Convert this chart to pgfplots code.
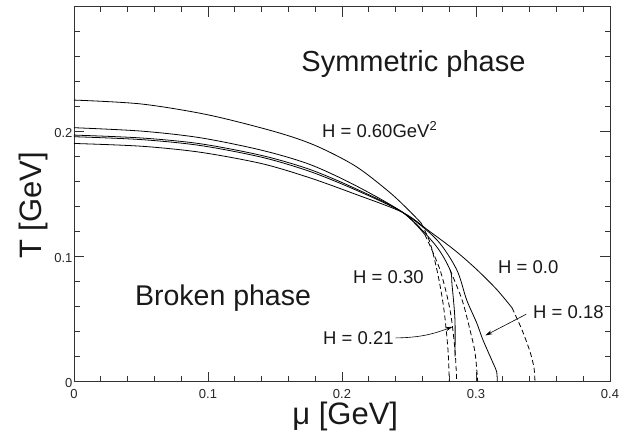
\documentclass[border=0pt]{standalone}
\usepackage{fontspec}
\setmainfont{Liberation Sans}
\usepackage{pgfplots}
\pgfplotsset{compat=1.18}
\usetikzlibrary{arrows.meta}
\begin{document}
\begin{tikzpicture}[x=1pt,y=1pt]
\useasboundingbox (0,0) rectangle (639,440);
\begin{axis}[
  at={(74pt,58.3pt)}, anchor=south west,
  scale only axis, width=536pt, height=375pt,
  xmin=0, xmax=0.4, ymin=0, ymax=0.3,
  xtick={0,0.1,0.2,0.3,0.4}, xticklabels={0,0.1,0.2,0.3,0.4},
  ytick={0,0.1,0.2,0.3}, yticklabels={0,0.1,0.2,{}},
  minor x tick num=4, minor y tick num=4,
  tick align=inside,
  major tick length=10pt, minor tick length=5.5pt,
  axis line style={line width=0.9pt, black!80},
  every tick/.style={black!80, line width=0.8pt},
  tick label style={font=\fontsize{13}{13}\selectfont, text=black!85},
  xticklabel style={yshift=-4pt},
  yticklabel style={xshift=2pt, yshift=-1pt},
  /pgf/number format/assume math mode=true,
  xlabel={μ [GeV]}, ylabel={T [GeV]},
  label style={font=\fontsize{31}{31}\selectfont, text=black!90},
  xlabel style={at={(axis description cs:0.506,-0.092)}, anchor=center},
  ylabel style={at={(axis description cs:-0.076,0.47)}, anchor=center},
  clip=false,
]
% H = 0.60
\addplot[black, line width=0.8pt, smooth] coordinates {
 (0,0.2253)(0.05,0.2222)(0.10,0.2135)(0.15,0.2000)(0.18,0.1890)(0.21,0.1725)(0.235,0.1520)(0.25,0.1370)(0.259,0.1270)};
\addplot[black, line width=0.8pt, smooth, dash pattern=on 5pt off 3pt] coordinates {
 (0.259,0.1270)(0.2657,0.1112)(0.2716,0.0856)(0.2761,0.0575)(0.2791,0.0254)(0.2801,0)};
% H = 0.30
\addplot[black, line width=0.8pt, smooth] coordinates {
 (0,0.2032)(0.05,0.2005)(0.094,0.1952)(0.14,0.1852)(0.176,0.1738)(0.21,0.1570)(0.2455,0.1353)(0.2619,0.1176)};
\addplot[black, line width=0.8pt, smooth, dash pattern=on 5pt off 3pt] coordinates {
 (0.2619,0.1176)(0.2731,0.0896)(0.2806,0.0575)(0.2843,0.0254)(0.2856,0)};
% H = 0.21
\addplot[black, line width=0.8pt, smooth] coordinates {
 (0,0.1973)(0.05,0.1950)(0.094,0.1904)(0.14,0.1810)(0.176,0.1698)(0.21,0.1545)(0.2455,0.1353)(0.2694,0.1097)(0.2806,0.0896)(0.2821,0.0775)(0.2843,0.0495)(0.2843,0.02)};
\addplot[black, line width=0.8pt, smooth, dash pattern=on 5pt off 3pt] coordinates {
 (0.2806,0.0896)(0.2896,0.0655)(0.2955,0.0415)(0.2993,0.023)(0.3013,0)};
% H = 0.18
\addplot[black, line width=0.8pt, smooth] coordinates {
 (0,0.1960)(0.05,0.1937)(0.094,0.1890)(0.14,0.1796)(0.176,0.1682)(0.21,0.1535)(0.2455,0.1353)(0.2707,0.1136)(0.2856,0.0896)(0.2930,0.0655)(0.3005,0.0471)(0.3052,0.0334)(0.3127,0.015)(0.3154,0.008)(0.3159,0)};
% H = 0.0
\addplot[black, line width=0.8pt, smooth] coordinates {
 (0,0.1906)(0.05,0.1884)(0.094,0.1836)(0.14,0.1745)(0.176,0.1631)(0.21,0.1500)(0.2455,0.1353)(0.2657,0.1200)(0.2843,0.1050)(0.3007,0.0896)(0.3157,0.0735)(0.3269,0.0591)};
\addplot[black, line width=0.8pt, smooth, dash pattern=on 5pt off 3pt] coordinates {
 (0.3269,0.0591)(0.3343,0.0415)(0.3403,0.024)(0.3433,0.011)(0.344,0)};
% labels
\node[font=\fontsize{29}{29}\selectfont, text=black!90] at (axis cs:0.2533,0.2540) {Symmetric phase};
\node[font=\fontsize{28.5}{28.5}\selectfont, text=black!90] at (axis cs:0.1112,0.0671) {Broken phase};
\node[font=\fontsize{18.5}{18.5}\selectfont, anchor=west, inner sep=0pt, text=black!90] at (axis cs:0.185,0.2018) {H = 0.60GeV\textsuperscript{2}};
\node[font=\fontsize{18.5}{18.5}\selectfont, anchor=west, inner sep=0pt, text=black!90] at (axis cs:0.2082,0.0840) {H = 0.30};
\node[font=\fontsize{18.5}{18.5}\selectfont, anchor=west, inner sep=0pt, text=black!90] at (axis cs:0.1858,0.0350) {H = 0.21};
\node[font=\fontsize{18.5}{18.5}\selectfont, anchor=west, inner sep=0pt, text=black!90] at (axis cs:0.3164,0.0920) {H = 0.0};
\node[font=\fontsize{18.5}{18.5}\selectfont, anchor=west, inner sep=0pt, text=black!90] at (axis cs:0.3425,0.0560) {H = 0.18};
\draw[-{Stealth[length=7pt,width=4pt]}, line width=0.6pt] (axis cs:0.240,0.0350) to[bend right=10] (axis cs:0.2825,0.0440);
\draw[-{Stealth[length=7pt,width=4pt]}, line width=0.6pt] (axis cs:0.3375,0.0540) -- (axis cs:0.3070,0.0370);
\end{axis}
\end{tikzpicture}
\end{document}
